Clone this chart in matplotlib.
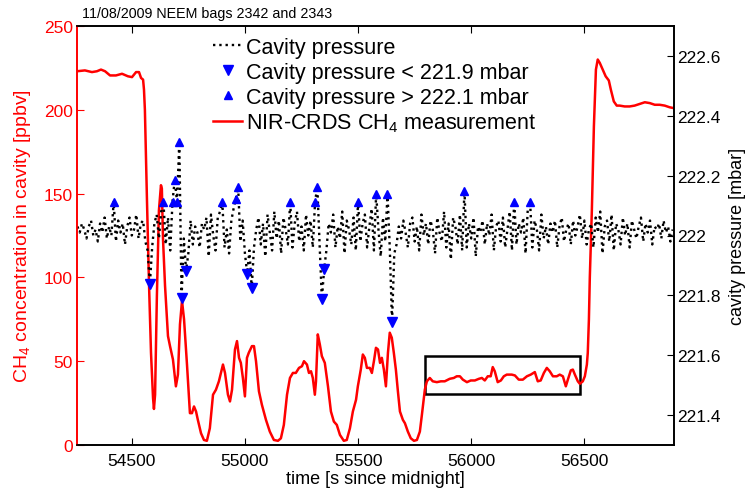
import numpy as np
import matplotlib.pyplot as plt
from matplotlib.patches import Rectangle

plt.rcParams['font.family'] = ['Liberation Sans', 'DejaVu Sans']
plt.rcParams['mathtext.fontset'] = 'custom'
plt.rcParams['mathtext.rm'] = 'Liberation Sans'
plt.rcParams['mathtext.default'] = 'regular'

# NIR-CRDS CH4 measurement (time [s], ppbv)
ch4_time = [54258, 54293, 54324, 54346, 54364, 54382, 54404, 54430, 54457, 54483,
            54501, 54519, 54532, 54541, 54550, 54554, 54558, 54567, 54576, 54585,
            54594, 54598, 54603, 54611, 54620, 54629, 54633, 54638, 54647, 54660,
            54669, 54682, 54695, 54704, 54713, 54722, 54731, 54744, 54757, 54766,
            54775, 54784, 54792, 54806, 54819, 54832, 54845, 54859, 54872, 54885,
            54903, 54912, 54925, 54934, 54943, 54956, 54965, 54974, 54982, 54991,
            55000, 55009, 55017, 55031, 55040, 55049, 55062, 55075, 55093, 55110,
            55128, 55146, 55159, 55172, 55186, 55199, 55212, 55225, 55239, 55252,
            55261, 55274, 55283, 55292, 55300, 55309, 55314, 55322, 55331, 55340,
            55353, 55367, 55380, 55393, 55406, 55420, 55437, 55450, 55464, 55477,
            55491, 55499, 55512, 55521, 55530, 55539, 55552, 55561, 55570, 55579,
            55588, 55597, 55605, 55614, 55623, 55632, 55640, 55649, 55658, 55667,
            55676, 55685, 55698, 55707, 55720, 55733, 55747, 55760, 55773, 55782,
            55795, 55804, 55817, 55830, 55848, 55866, 55883, 55905, 55923, 55936,
            55950, 55963, 55981, 55998, 56016, 56034, 56047, 56060, 56073, 56086,
            56095, 56104, 56117, 56131, 56144, 56157, 56179, 56193, 56210, 56228,
            56246, 56263, 56281, 56294, 56307, 56321, 56334, 56347, 56361, 56378,
            56391, 56405, 56418, 56427, 56440, 56449, 56458, 56471, 56480, 56493,
            56502, 56511, 56515, 56520, 56524, 56533, 56542, 56551, 56559, 56568,
            56581, 56594, 56608, 56617, 56630, 56643, 56656, 56678, 56700, 56722,
            56745, 56767, 56789, 56811, 56833, 56855, 56877, 56895]
ch4_ppbv = [223, 223.5, 222.5, 223, 224, 223, 220.5, 220.5, 221.5, 220,
            219.5, 222.5, 222.5, 219, 218, 212, 200, 147, 97, 55,
            28, 21.5, 30, 89, 140, 155, 153, 123, 95, 65,
            59, 51, 35, 42, 72, 86, 75, 48, 19, 19,
            23, 20, 15, 7, 3, 2.5, 10, 30, 33, 38,
            48, 43, 30, 26, 33, 57, 62, 52, 49, 40,
            29, 52, 55, 59, 59, 50, 32, 24, 15, 8,
            3, 2.5, 4, 12, 30, 40, 43, 43, 46, 47,
            50, 48, 43, 44, 40, 30, 38, 66, 60, 53,
            49, 35, 20, 14, 12, 6, 2.5, 3, 10, 20,
            27, 35, 45, 54, 52, 46, 46, 43, 50, 58,
            57, 49, 52, 45, 35, 55, 67, 64, 55, 45,
            32, 20, 15, 13, 8, 4, 2.5, 3, 8, 18,
            33, 38, 40, 38, 37.5, 38, 38, 39.5, 40, 41,
            41, 39, 37.5, 38.5, 38.5, 39.5, 40, 38.5, 41, 41,
            46.5, 44, 37.5, 38.5, 41, 42, 42, 41.5, 39, 39,
            41, 42, 43.5, 38, 38.5, 43, 46, 44, 41, 41,
            42, 41, 35, 39, 44.5, 45, 42, 38, 36.5, 38,
            41, 48, 55, 75, 100, 140, 190, 224, 230, 228,
            224, 220, 217.5, 212, 205, 202.5, 202.5, 202, 202, 202.5,
            203.5, 204.5, 204, 203, 203, 202.5, 201.5, 201]

# cavity pressure [mbar], one reading every 10 s from 54260 s
p_start, p_step = 54260, 10
pressure = [222.03, 222.01, 222.04, 222.02, 221.99, 222.03, 222.05, 222.00, 222.02, 221.98,
            222.04, 222.01, 222.06, 221.99, 222.03, 222.00, 222.113, 221.98, 222.05, 222.01,
            222.04, 221.97, 222.03, 222.06, 222.00, 222.02, 222.07, 221.99, 222.04, 222.05,
            221.98, 221.95, 221.837, 221.96, 222.04, 222.07, 221.99, 222.08, 222.113, 221.97,
            222.06, 221.95, 222.113, 222.187, 222.113, 222.313, 221.79, 221.99, 221.883, 221.94,
            222.05, 221.97, 222.03, 222.01, 221.96, 222.04, 222.02, 222.06, 221.93, 222.07,
            222.00, 221.95, 222.06, 222.08, 222.113, 221.96, 222.02, 221.94, 222.05, 222.09,
            222.123, 222.163, 221.98, 222.05, 221.94, 221.873, 221.95, 221.823, 221.96, 222.02,
            222.06, 221.97, 222.04, 221.93, 222.07, 222.01, 221.95, 222.08, 221.99, 222.05,
            221.94, 222.06, 222.02, 221.97, 222.113, 221.96, 222.04, 222.08, 221.98, 222.03,
            221.95, 222.07, 222.00, 222.05, 221.96, 222.113, 222.163, 221.97, 221.787, 221.887,
            221.95, 222.04, 222.01, 222.07, 221.96, 222.03, 221.99, 222.08, 221.94, 222.05,
            222.02, 221.97, 222.06, 221.95, 222.113, 221.98, 222.04, 222.07, 221.96, 222.03,
            222.09, 221.95, 222.14, 222.02, 221.93, 222.06, 221.98, 222.14, 221.96, 221.71,
            221.94, 221.97, 222.03, 221.99, 222.05, 222.01, 221.96, 222.04, 222.06, 221.98,
            222.03, 221.95, 222.07, 222.00, 222.04, 221.97, 222.05, 222.02, 221.94, 222.06,
            222.01, 221.98, 222.08, 221.96, 222.04, 221.92, 222.06, 222.03, 221.97, 222.07,
            221.95, 222.15, 221.96, 222.04, 221.99, 222.06, 221.93, 222.03, 222.01, 222.05,
            221.97, 222.04, 222.00, 222.07, 221.95, 222.03, 222.05, 221.98, 222.06, 221.96,
            222.02, 222.08, 221.95, 222.113, 221.97, 222.04, 222.01, 222.06, 221.94, 222.09,
            222.113, 221.96, 222.05, 222.02, 221.95, 222.07, 221.99, 222.03, 221.97, 222.04,
            222.01, 222.05, 221.96, 222.03, 222.06, 221.98, 222.02, 222.04, 221.97, 222.05,
            222.00, 222.03, 222.07, 221.99, 222.05, 221.97, 222.02, 222.04, 221.96, 222.06,
            222.01, 222.08, 221.94, 222.03, 222.05, 221.98, 222.07, 221.95, 222.04, 222.02,
            221.97, 222.06, 222.00, 222.04, 221.96, 222.05, 222.02, 221.99, 222.03, 222.06,
            221.98, 222.04, 222.01, 222.05, 221.97, 222.03, 222.02, 222.04, 221.99, 222.05,
            222.01, 222.03, 221.98, 222.02]
p_low, p_high = 221.9, 222.1

# highlighted stable section (time range, ppbv range)
box_time = [55795, 56480]
box_ppbv = [30.5, 53]

p_time = p_start + p_step * np.arange(len(pressure))
p = np.array(pressure)
low = p < p_low
high = p > p_high

RED = '#ff0000'
BLUE = '#0000ff'

fig = plt.figure(figsize=(7.45, 4.89), dpi=100)
ax = fig.add_axes([77 / 745, 1 - 446 / 489, 597 / 745, 419 / 489])
ax2 = ax.twinx()

ln_ch4, = ax.plot(ch4_time, ch4_ppbv, color=RED, lw=1.8)
ax.add_patch(Rectangle((box_time[0], box_ppbv[0]), box_time[1] - box_time[0],
                       box_ppbv[1] - box_ppbv[0], fill=False, ec='black', lw=1.8))

ln_p, = ax2.plot(p_time, p, color='black', ls=':', lw=1.7)
mk_low, = ax2.plot(p_time[low], p[low], 'v', color=BLUE, ms=7, ls='none')
mk_high, = ax2.plot(p_time[high], p[high], '^', color=BLUE, ms=5.5, ls='none')

ax.set_xlim(54258, 56896)
ax.set_ylim(0, 250)
ax2.set_ylim(221.3, 222.7)

ax.set_xticks([54500, 55000, 55500, 56000, 56500])
ax.set_yticks([0, 50, 100, 150, 200, 250])
ax2.set_yticks([221.4, 221.6, 221.8, 222.0, 222.2, 222.4, 222.6])
ax2.set_yticklabels(['221.4', '221.6', '221.8', '222', '222.2', '222.4', '222.6'])

fs = 12.5
ax.tick_params(axis='x', direction='in', top=True, length=5, labelsize=fs, pad=6)
ax.tick_params(axis='y', direction='in', colors=RED, length=5, labelsize=fs, pad=3)
ax2.tick_params(axis='y', direction='in', length=5, labelsize=fs, pad=2)
ax.spines['left'].set_color(RED)
ax2.spines['left'].set_color(RED)
for a in (ax, ax2):
    for s in a.spines.values():
        s.set_linewidth(1.2)

ax.set_xlabel('time [s since midnight]', fontsize=13, labelpad=1)
ax.set_ylabel('CH$_4$ concentration in cavity [ppbv]', fontsize=14, color=RED, labelpad=8)
ax2.set_ylabel('cavity pressure [mbar]', fontsize=13, labelpad=6)

fig.text(82 / 745, 1 - 14 / 489, '11/08/2009 NEEM bags 2342 and 2343', fontsize=10.3,
         va='center', ha='left')

ax2.legend([ln_p, mk_low, mk_high, ln_ch4],
           ['Cavity pressure', 'Cavity pressure < 221.9 mbar',
            'Cavity pressure > 222.1 mbar', 'NIR-CRDS CH$_4$ measurement'],
           loc='upper left', bbox_to_anchor=(213 / 745, 1 - 38 / 489),
           bbox_transform=fig.transFigure, frameon=False, fontsize=15.5,
           handlelength=1.35, handletextpad=0.2, labelspacing=0.18,
           borderpad=0, borderaxespad=0)

fig.savefig('out.png', dpi=100)
